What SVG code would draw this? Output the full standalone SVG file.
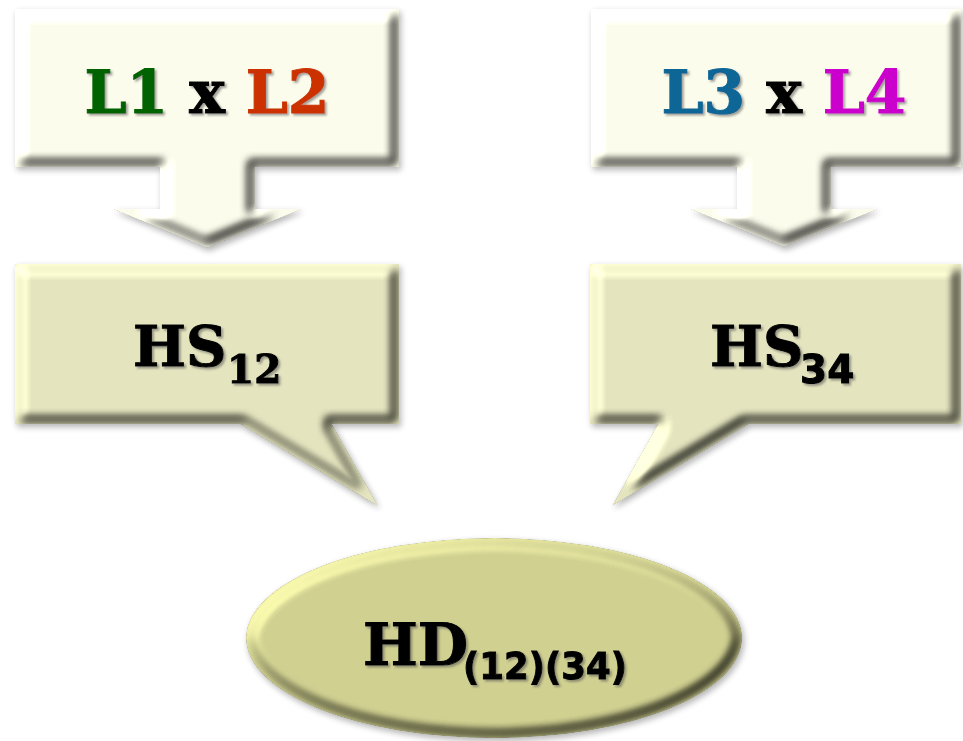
<svg xmlns="http://www.w3.org/2000/svg" width="963" height="741" viewBox="0 0 963 741">
  <defs>
    <filter id="bevel" x="-6%" y="-6%" width="114%" height="118%" color-interpolation-filters="sRGB">
      <feMorphology in="SourceAlpha" operator="erode" radius="5" result="e"/>
      <feGaussianBlur in="e" stdDeviation="4.5" result="b"/>
      <feDiffuseLighting in="b" surfaceScale="6" diffuseConstant="1" lighting-color="#ffffff" result="d">
        <feDistantLight azimuth="225" elevation="50"/>
      </feDiffuseLighting>
      <feComposite in="SourceGraphic" in2="d" operator="arithmetic" k1="0.85" k2="0.35" k3="0" k4="0" result="lit"/>
      <feComposite in="lit" in2="SourceAlpha" operator="in" result="body"/>
      <feGaussianBlur in="SourceAlpha" stdDeviation="3" result="sb"/>
      <feOffset in="sb" dx="2" dy="3" result="so"/>
      <feComponentTransfer in="so" result="sh">
        <feFuncA type="linear" slope="0.3"/>
      </feComponentTransfer>
      <feMerge>
        <feMergeNode in="sh"/>
        <feMergeNode in="body"/>
      </feMerge>
    </filter>
    <filter id="tshadow" x="-10%" y="-10%" width="120%" height="130%">
      <feDropShadow dx="2" dy="2" stdDeviation="1.2" flood-color="#555555" flood-opacity="0.55"/>
    </filter>
    <style>
      .light { fill: #FCFCEC; }
      .mid { fill: #E4E4BF; }
      .oval { fill: #D0D091; }
      .serif { font-family: "DejaVu Serif", "Liberation Serif", serif; font-weight: bold; }
      .sans { font-family: "DejaVu Sans", "Liberation Sans", sans-serif; font-weight: bold; }
      .lbl { filter: url(#tshadow); fill: #000000; stroke: #000000; stroke-width: 1; }
    </style>
  </defs>
  <rect width="963" height="741" fill="#ffffff"/>

  <g id="n-l1xl2">
    <path class="light" filter="url(#bevel)" d="M15,9 H399 V167 H255 V209 H302 L207,248 L113,209 H160 V167 H15 Z"/>
    <text class="serif lbl" x="207" y="113" font-size="60" text-anchor="middle" textLength="245" lengthAdjust="spacingAndGlyphs"><tspan fill="#006400" stroke="#006400">L1</tspan> x <tspan fill="#CC3300" stroke="#CC3300">L2</tspan></text>
  </g>

  <g id="n-l3xl4">
    <path class="light" filter="url(#bevel)" d="M591,9 H961 V167 H831 V209 H878 L784,247 L690,209 H737 V167 H591 Z"/>
    <text class="serif lbl" x="784" y="113" font-size="60" text-anchor="middle" textLength="245" lengthAdjust="spacingAndGlyphs"><tspan fill="#0D6696" stroke="#0D6696">L3</tspan> x <tspan fill="#CC00CC" stroke="#CC00CC">L4</tspan></text>
  </g>

  <g id="n-hs12">
    <path class="mid" filter="url(#bevel)" d="M15,264 H399 V424 H332 L378,506 L240,424 H15 Z"/>
    <text class="lbl" y="366"><tspan class="serif" x="133" font-size="56">HS</tspan><tspan class="serif" x="227" y="383" font-size="39">12</tspan></text>
  </g>

  <g id="n-hs34">
    <path class="mid" filter="url(#bevel)" d="M590,264 H961 V424 H749 L612,506 L658,424 H590 Z"/>
    <text class="lbl" y="366"><tspan class="serif" x="710" font-size="56">HS</tspan><tspan class="sans" x="800" y="383" font-size="39">34</tspan></text>
  </g>

  <g id="n-hd">
    <ellipse class="oval" filter="url(#bevel)" cx="494" cy="638" rx="248" ry="100"/>
    <text class="lbl" y="665"><tspan class="serif" x="363" font-size="58">HD</tspan><tspan class="sans" x="463" y="679" font-size="38" textLength="164" lengthAdjust="spacingAndGlyphs">(12)(34)</tspan></text>
  </g>

  <g id="connectors"/>
</svg>
